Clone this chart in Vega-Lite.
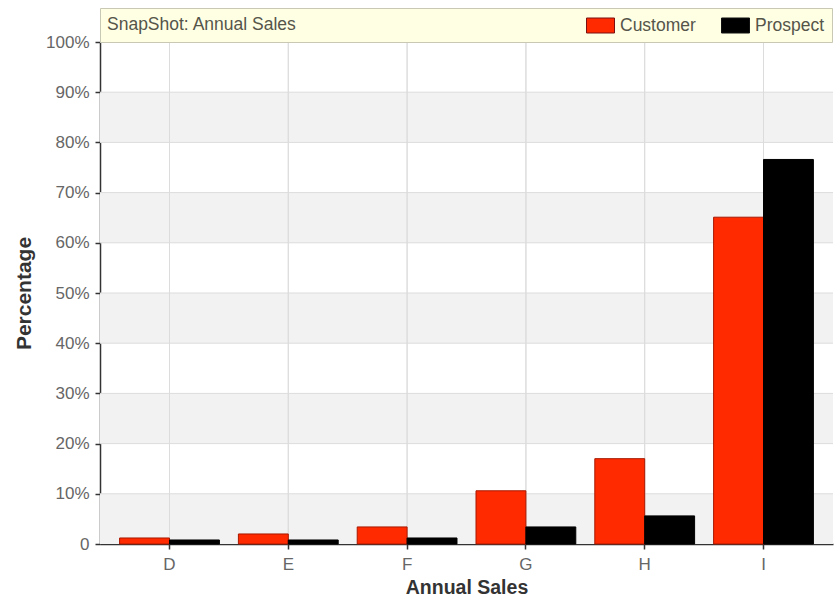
{
  "$schema": "https://vega.github.io/schema/vega-lite/v6.json",
  "width": 733,
  "height": 502,
  "autosize": {"type": "none"},
  "padding": {"left": 100, "top": 42, "right": 7, "bottom": 61},
  "background": "#FFFFFF",
  "config": {
    "font": "Liberation Sans",
    "view": {"stroke": null},
    "axis": {
      "grid": false,
      "domainColor": "#333333",
      "domainWidth": 1.5,
      "tickColor": "#333333",
      "tickWidth": 1.5,
      "tickSize": 5,
      "labelColor": "#666666",
      "labelFontSize": 17,
      "titleColor": "#333333",
      "titleFontWeight": "bold"
    }
  },
  "datasets": {
    "sales": [
      {"cat": "D", "series": "Customer", "pct": 1.2},
      {"cat": "D", "series": "Prospect", "pct": 0.8},
      {"cat": "E", "series": "Customer", "pct": 2.0},
      {"cat": "E", "series": "Prospect", "pct": 0.8},
      {"cat": "F", "series": "Customer", "pct": 3.4},
      {"cat": "F", "series": "Prospect", "pct": 1.2},
      {"cat": "G", "series": "Customer", "pct": 10.6},
      {"cat": "G", "series": "Prospect", "pct": 3.4},
      {"cat": "H", "series": "Customer", "pct": 17.0},
      {"cat": "H", "series": "Prospect", "pct": 5.6},
      {"cat": "I", "series": "Customer", "pct": 65.1},
      {"cat": "I", "series": "Prospect", "pct": 76.6}
    ],
    "bands": [
      {"lo": 0, "hi": 10},
      {"lo": 20, "hi": 30},
      {"lo": 40, "hi": 50},
      {"lo": 60, "hi": 70},
      {"lo": 80, "hi": 90}
    ],
    "levels": [
      {"v": 10}, {"v": 20}, {"v": 30}, {"v": 40}, {"v": 50},
      {"v": 60}, {"v": 70}, {"v": 80}, {"v": 90}, {"v": 100}
    ]
  },
  "layer": [
    {
      "data": {"name": "bands"},
      "mark": {"type": "rect", "fill": "#F2F2F2"},
      "encoding": {
        "y": {
          "field": "lo",
          "type": "quantitative",
          "title": "Percentage",
          "scale": {"domain": [0, 100], "nice": false},
          "axis": {
            "values": [0, 10, 20, 30, 40, 50, 60, 70, 80, 90, 100],
            "labelExpr": "datum.value == 0 ? '0' : datum.value + '%'",
            "labelPadding": 6,
            "titleFontSize": 21,
            "titlePadding": 11
          }
        },
        "y2": {"field": "hi"}
      }
    },
    {
      "data": {"name": "levels"},
      "mark": {"type": "rule", "color": "#DCDCDC", "strokeWidth": 1},
      "encoding": {
        "y": {
          "field": "v",
          "type": "quantitative",
          "title": "Percentage",
          "axis": {
            "values": [0, 10, 20, 30, 40, 50, 60, 70, 80, 90, 100],
            "labelExpr": "datum.value == 0 ? '0' : datum.value + '%'",
            "labelPadding": 6,
            "titleFontSize": 21,
            "titlePadding": 11
          }
        }
      }
    },
    {
      "data": {"name": "sales"},
      "mark": {"type": "rule", "color": "#DCDCDC", "strokeWidth": 1},
      "encoding": {
        "x": {
          "field": "cat",
          "type": "nominal",
          "title": "Annual Sales",
          "scale": {"paddingInner": 0.16, "paddingOuter": 0.165},
          "axis": {"labelAngle": 0, "labelPadding": 7, "titleFontSize": 19.5, "titlePadding": 6}
        }
      }
    },
    {
      "data": {"name": "sales"},
      "mark": {"type": "bar", "strokeWidth": 1},
      "encoding": {
        "x": {
          "field": "cat",
          "type": "nominal",
          "title": "Annual Sales",
          "scale": {"paddingInner": 0.16, "paddingOuter": 0.165},
          "axis": {"labelAngle": 0, "labelPadding": 7, "titleFontSize": 19.5, "titlePadding": 6}
        },
        "xOffset": {"field": "series", "type": "nominal", "scale": {"paddingInner": 0, "paddingOuter": 0}},
        "y": {
          "field": "pct",
          "type": "quantitative",
          "title": "Percentage",
          "scale": {"domain": [0, 100], "nice": false},
          "axis": {
            "values": [0, 10, 20, 30, 40, 50, 60, 70, 80, 90, 100],
            "labelExpr": "datum.value == 0 ? '0' : datum.value + '%'",
            "labelPadding": 6,
            "titleFontSize": 21,
            "titlePadding": 11
          }
        },
        "color": {
          "field": "series",
          "type": "nominal",
          "scale": {"domain": ["Customer", "Prospect"], "range": ["#FF2A00", "#000000"]},
          "legend": {
            "orient": "none",
            "legendX": 0,
            "legendY": -34,
            "direction": "horizontal",
            "title": "SnapShot: Annual Sales",
            "titleOrient": "left",
            "titleLimit": 400,
            "titleFontSize": 17.5,
            "titleFontWeight": "normal",
            "titleColor": "#55554A",
            "titlePadding": 293,
            "labelFontSize": 17.5,
            "labelColor": "#55554A",
            "labelOffset": 9,
            "columnPadding": 23,
            "symbolType": "M-1.4,-0.75H1.4V0.75H-1.4Z",
            "symbolSize": 400,
            "symbolStrokeColor": "#3A3A3A",
            "symbolStrokeWidth": 1,
            "symbolOpacity": 1,
            "fillColor": "#FFFFE4",
            "strokeColor": "#C8C8B4",
            "padding": 7,
            "cornerRadius": 0,
            "encode": {
              "symbols": {
                "update": {
                  "fill": [
                    {
                      "test": "datum.value === 'Customer'",
                      "value": {
                        "gradient": "linear", "x1": 0, "y1": 0, "x2": 1, "y2": 0,
                        "stops": [
                          {"offset": 0, "color": "#E01010"},
                          {"offset": 0.5, "color": "#FF4545"},
                          {"offset": 1, "color": "#E81818"}
                        ]
                      }
                    },
                    {
                      "value": {
                        "gradient": "linear", "x1": 0, "y1": 0, "x2": 1, "y2": 0,
                        "stops": [
                          {"offset": 0, "color": "#000000"},
                          {"offset": 1, "color": "#5A5A5A"}
                        ]
                      }
                    }
                  ],
                  "stroke": [
                    {"test": "datum.value === 'Customer'", "value": "#7A1010"},
                    {"value": "#111111"}
                  ]
                }
              }
            }
          }
        },
        "stroke": {
          "condition": {"test": "datum.series === 'Customer'", "value": "#A81800"},
          "value": "#000000"
        }
      }
    }
  ]
}
